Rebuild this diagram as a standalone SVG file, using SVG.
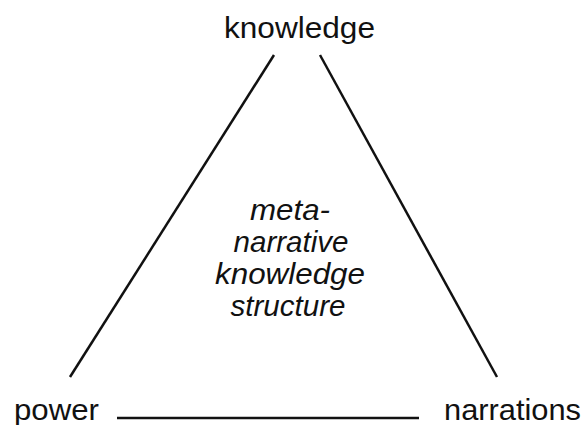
<svg xmlns="http://www.w3.org/2000/svg" width="584" height="425" viewBox="0 0 584 425">
<style>
.lbl{font-family:"Liberation Sans",Arial,sans-serif;font-size:30px;fill:#111}
.ctr{font-family:"Liberation Sans",Arial,sans-serif;font-size:29px;font-style:italic;fill:#111;text-anchor:middle}
.edge{stroke:#111;stroke-width:2.5;fill:none;stroke-linecap:butt}
</style>
<rect width="584" height="425" fill="#fff"/>
<g id="connectors">
<line class="edge" x1="274" y1="55" x2="70" y2="377"/>
<line class="edge" x1="320" y1="55" x2="497" y2="377"/>
<line class="edge" x1="117" y1="418" x2="419" y2="418"/>
</g>
<g id="node-knowledge"><text class="lbl" x="224" y="38" textLength="151" lengthAdjust="spacingAndGlyphs">knowledge</text></g>
<g id="node-power"><text class="lbl" x="14" y="420" textLength="85" lengthAdjust="spacingAndGlyphs">power</text></g>
<g id="node-narrations"><text class="lbl" x="444" y="420" textLength="137" lengthAdjust="spacingAndGlyphs">narrations</text></g>
<g id="node-center">
<text class="ctr" x="290" y="220" textLength="80" lengthAdjust="spacingAndGlyphs">meta-</text>
<text class="ctr" x="291" y="252" textLength="115" lengthAdjust="spacingAndGlyphs">narrative</text>
<text class="ctr" x="290" y="284" textLength="150" lengthAdjust="spacingAndGlyphs">knowledge</text>
<text class="ctr" x="288" y="316" textLength="115" lengthAdjust="spacingAndGlyphs">structure</text>
</g>
</svg>
